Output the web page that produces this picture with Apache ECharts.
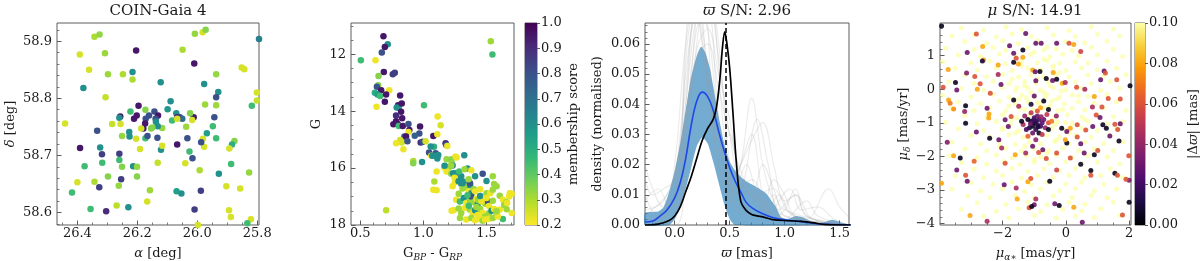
<!DOCTYPE html>
<html><head><meta charset="utf-8">
<script src="https://cdn.jsdelivr.net/npm/echarts@6/dist/echarts.min.js"></script>
<style>html,body{margin:0;padding:0;background:#fff}#c{width:1200px;height:261px}</style>
</head><body><div id="c"></div>
<script>
// ---------- Panel 1: sky positions [ra, dec, membership score] ----------
const skyPoints = [
[26.343,58.908,0.3],[26.326,58.912,0.33],[26.392,58.877,0.25],[26.308,58.879,0.32],[26.204,58.884,0.95],
[26.361,58.850,0.25],[26.298,58.842,0.32],[26.248,58.842,0.3],[26.216,58.846,0.6],[26.216,58.833,0.3],
[26.380,58.818,0.6],[26.306,58.802,0.27],[26.122,58.828,0.6],[26.049,58.885,0.3],[26.010,58.861,0.95],
[26.008,58.913,0.33],[25.982,58.916,0.25],[25.972,58.920,0.35],[25.852,58.854,0.25],[25.843,58.851,0.25],
[25.937,58.842,0.33],[25.977,58.825,0.6],[25.930,58.811,0.6],[25.937,58.802,0.8],[25.794,58.904,0.65],
[25.801,58.810,0.25],[25.801,58.796,0.27],[25.818,58.787,0.45],[25.974,58.789,0.32],[25.937,58.788,0.32],
[26.441,58.756,0.25],[26.089,58.795,0.6],[26.099,58.781,0.58],[26.070,58.774,0.6],[26.058,58.767,0.8],
[26.050,58.764,0.72],[26.067,58.767,0.92],[26.012,58.767,0.95],[26.024,58.774,0.35],[26.017,58.762,0.25],
[26.084,58.761,0.45],[26.067,58.764,0.25],[26.037,58.750,0.32],[25.943,58.767,0.8],[25.948,58.751,0.45],
[25.968,58.739,0.55],[25.981,58.729,0.25],[25.977,58.715,0.25],[25.987,58.723,0.8],[25.937,58.730,0.45],
[25.876,58.725,0.35],[25.884,58.719,0.5],[25.893,58.712,0.25],[26.033,58.730,0.8],[26.026,58.707,0.45],
[26.067,58.719,0.95],[26.016,58.695,0.8],[26.040,58.686,0.25],[26.121,58.710,0.6],[26.117,58.717,0.25],
[26.132,58.687,0.27],[26.133,58.731,0.8],[26.117,58.748,0.33],[26.196,58.787,0.95],[26.173,58.780,0.35],
[26.143,58.777,0.8],[26.131,58.770,0.95],[26.161,58.770,0.8],[26.223,58.777,0.45],[26.257,58.768,0.95],
[26.260,58.766,0.6],[26.202,58.770,0.95],[26.211,58.764,0.95],[26.172,58.764,0.8],[26.139,58.764,0.8],
[26.138,58.759,0.6],[26.132,58.751,0.6],[26.174,58.756,0.95],[26.180,58.747,0.95],[26.187,58.747,0.25],
[26.154,58.747,0.35],[26.150,58.749,0.35],[26.284,58.755,0.27],[26.256,58.755,0.25],[26.334,58.743,0.8],
[26.227,58.741,0.6],[26.226,58.733,0.6],[26.251,58.734,0.33],[26.204,58.729,0.25],[26.173,58.730,0.45],
[26.166,58.734,0.8],[26.191,58.711,0.25],[26.391,58.713,0.95],[26.324,58.714,0.6],[26.318,58.702,0.85],
[26.260,58.703,0.85],[26.260,58.692,0.45],[26.376,58.681,0.45],[26.317,58.687,0.45],[26.251,58.680,0.35],
[26.214,58.681,0.6],[26.201,58.680,0.33],[26.298,58.663,0.35],[26.254,58.658,0.85],[26.201,58.663,0.35],
[26.400,58.653,0.25],[26.343,58.654,0.3],[26.327,58.644,0.85],[26.262,58.647,0.33],[26.418,58.635,0.45],
[26.356,58.606,0.45],[26.304,58.602,0.9],[26.269,58.612,0.28],[26.230,58.609,0.6],[26.167,58.619,0.25],
[26.158,58.639,0.32],[26.069,58.637,0.55],[26.053,58.633,0.6],[26.009,58.605,0.85],[25.992,58.674,0.3],
[25.988,58.638,0.85],[25.928,58.668,0.6],[25.903,58.646,0.25],[25.894,58.604,0.25],[25.888,58.592,0.25],
[25.857,58.642,0.25],[25.827,58.670,0.33],[25.821,58.588,0.25],[25.833,58.581,0.45],[25.887,58.685,0.45],
[25.998,58.578,0.25]
];

// ---------- Panel 2: colour-magnitude [bp-rp, G, membership score] ----------
const cmdPoints = [
[0.684,11.37,0.95],[0.718,11.65,0.6],[0.695,11.74,0.95],[0.671,11.94,0.8],[0.505,12.21,0.45],[0.621,12.21,0.22],
[0.687,12.62,0.95],[0.645,12.76,0.35],[0.758,12.70,0.85],[0.774,12.65,0.85],[0.642,13.09,0.35],[0.632,13.14,0.8],
[0.666,13.26,0.95],[0.73,13.26,0.22],[0.616,13.35,0.5],[0.637,13.41,0.55],[0.658,13.47,0.45],[0.705,13.41,0.95],
[0.816,13.45,0.95],[0.695,13.67,0.95],[0.629,13.84,0.22],[0.800,13.79,0.95],[0.805,13.89,0.55],[0.789,13.87,0.6],
[0.829,13.73,0.95],[1.005,13.79,0.45],[0.824,14.02,0.95],[0.784,14.15,0.9],[0.832,14.25,0.95],[0.784,14.35,0.95],
[0.763,14.46,0.95],[0.797,14.45,0.95],[0.805,14.52,0.45],[0.837,14.52,0.95],[0.882,14.45,0.8],[0.974,14.54,0.95],
[1.113,14.19,0.22],[1.137,14.49,0.25],[0.889,14.66,0.95],[0.882,14.73,0.22],[0.968,14.78,0.8],[0.850,14.89,0.8],
[0.863,14.89,0.95],[0.932,14.86,0.75],[1.079,14.87,0.95],[1.111,14.81,0.22],[0.816,15.01,0.25],[0.829,15.10,0.25],
[0.784,15.13,0.22],[0.874,15.06,0.8],[0.979,15.10,0.9],[0.995,15.07,0.8],[1.018,15.06,0.25],[1.084,15.25,0.5],
[1.058,15.24,0.6],[1.176,15.13,0.9],[1.182,15.19,0.8],[0.842,15.34,0.22],[1.045,15.45,0.8],[1.097,15.48,0.8],
[1.089,15.57,0.6],[1.111,15.66,0.6],[1.063,15.57,0.22],[0.92,15.75,0.3],[0.92,15.83,0.35],[0.99,15.79,0.6],
[1.184,15.69,0.33],[1.224,15.69,0.35],[1.263,15.63,0.22],[1.324,15.55,0.6],[1.224,15.83,0.32],[1.174,15.94,0.6],
[1.105,16.12,0.22],[1.087,16.47,0.3],[1.105,16.78,0.22],[0.705,17.48,0.28],[1.534,11.54,0.32],[1.547,12.01,0.45],
[1.166,15.98,0.22],[1.20,15.98,0.32],[1.232,15.91,0.6],[1.35,16.01,0.6],[1.38,16.08,0.22],[1.47,16.2,0.8],
[1.41,16.29,0.6],[1.50,16.45,0.6],[1.55,16.29,0.32],[1.56,16.56,0.32],[1.58,16.64,0.32],[1.184,16.12,0.22],
[1.22,16.2,0.32],[1.26,16.18,0.6],[1.29,16.35,0.32],[1.30,16.29,0.6],[1.25,16.5,0.22],[1.32,16.48,0.6],
[1.30,16.55,0.6],[1.34,16.67,0.32],[1.37,16.6,0.6],[1.37,16.53,0.8],[1.31,16.72,0.32],[1.36,16.82,0.22],
[1.38,16.88,0.6],[1.40,16.74,0.32],[1.41,16.82,0.22],[1.45,16.74,0.22],[1.50,16.88,0.32],[1.53,16.88,0.22],
[1.55,16.76,0.32],[1.605,16.97,0.32],[1.63,17.11,0.22],[1.66,17.2,0.32],[1.68,17.0,0.22],[1.70,16.9,0.22],
[1.70,17.58,0.22],[1.66,17.45,0.32],[1.26,17.11,0.22],[1.29,17.17,0.45],[1.32,17.05,0.6],[1.34,17.23,0.22],
[1.37,17.12,0.32],[1.38,17.0,0.8],[1.40,17.2,0.32],[1.42,17.08,0.22],[1.43,17.27,0.6],[1.44,17.12,0.32],
[1.47,17.17,0.22],[1.49,17.25,0.32],[1.51,17.17,0.8],[1.52,17.33,0.22],[1.24,17.48,0.22],[1.28,17.42,0.32],
[1.30,17.58,0.32],[1.33,17.40,0.22],[1.37,17.46,0.32],[1.39,17.58,0.22],[1.41,17.48,0.6],[1.43,17.65,0.22],
[1.45,17.44,0.32],[1.47,17.58,0.22],[1.49,17.7,0.32],[1.52,17.58,0.32],[1.54,17.5,0.6],[1.56,17.44,0.22],
[1.58,17.6,0.32],[1.605,17.46,0.22],[1.29,17.75,0.32],[1.34,17.81,0.22],[1.38,17.75,0.32],[1.41,17.83,0.22],
[1.45,17.79,0.22],[1.47,17.85,0.32],[1.49,17.81,0.22],[1.52,17.78,0.22],[1.55,17.75,0.32],[1.63,17.79,0.45],
[1.59,17.7,0.22],[1.64,17.3,0.32],[1.235,16.18,0.6],[1.284,16.12,0.45],[1.247,16.34,0.22],[1.279,16.46,0.6],
[1.311,16.53,0.6],[1.358,16.39,0.32],[1.232,16.64,0.22],[1.079,16.76,0.22],[1.326,16.04,0.32],[1.168,15.92,0.6],
[1.221,15.91,0.32],[1.255,15.59,0.22],[1.118,15.54,0.6],[1.071,15.57,0.6],[1.19,15.22,0.22],[1.434,17.11,0.32],
[1.461,17.17,0.22],[1.684,16.88,0.22],[1.663,17.23,0.22],[1.224,17.50,0.22],[1.579,17.52,0.32],[1.28,16.9,0.32],
[1.35,16.95,0.45],[1.45,16.98,0.6],[1.42,17.37,0.32],[1.36,17.32,0.45],[1.5,17.05,0.22],[1.55,17.15,0.32]
];

// ---------- Panel 3: parallax densities [parallax, density] ----------
const kdeMedian = [[-0.27,0.001],[-0.2,0.0013],[-0.14,0.0028],[-0.07,0.005],[0.0,0.009],[0.05,0.014],[0.1,0.022],
[0.15,0.033],[0.2,0.041],[0.25,0.044],[0.3,0.0425],[0.35,0.038],[0.4,0.031],[0.45,0.0245],[0.5,0.019],[0.55,0.0145],
[0.6,0.011],[0.65,0.0075],[0.71,0.0055],[0.8,0.0037],[0.89,0.0025],[1.0,0.0017],[1.13,0.0012],[1.25,0.0006],[1.4,0.0002],[1.6,0]];
const kdeUpper = [[-0.27,0.004],[-0.15,0.0045],[-0.1,0.006],[-0.05,0.011],[0.0,0.018],[0.05,0.027],[0.1,0.038],
[0.15,0.049],[0.2,0.056],[0.24,0.059],[0.28,0.057],[0.32,0.052],[0.35,0.046],[0.41,0.034],[0.45,0.027],[0.5,0.021],
[0.55,0.018],[0.6,0.016],[0.65,0.0145],[0.7,0.0135],[0.77,0.012],[0.83,0.0105],[0.88,0.008],[0.92,0.006],[0.97,0.0025],
[1.03,0.002],[1.1,0.003],[1.17,0.0025],[1.25,0.001],[1.35,0.0008],[1.43,0.0017],[1.5,0.001],[1.6,0]];
const kdeLower = [[-0.27,0],[-0.05,0],[0.0,0.002],[0.05,0.006],[0.1,0.012],[0.15,0.019],[0.2,0.026],[0.25,0.029],
[0.3,0.027],[0.35,0.021],[0.4,0.014],[0.45,0.007],[0.5,0.002],[0.55,0],[1.6,0]];
const kdeCluster = [[-0.27,0],[-0.15,0.0003],[-0.05,0.0015],[0.0,0.003],[0.05,0.006],[0.1,0.011],[0.15,0.016],
[0.2,0.022],[0.25,0.028],[0.3,0.032],[0.35,0.035],[0.38,0.039],[0.41,0.048],[0.435,0.059],[0.455,0.064],[0.475,0.06],
[0.5,0.052],[0.53,0.037],[0.56,0.021],[0.6,0.008],[0.65,0.0048],[0.7,0.0035],[0.75,0.003],[0.8,0.0027],[0.89,0.0018],
[1.04,0.0014],[1.15,0.0012],[1.25,0.0008],[1.37,0.0001],[1.6,0]];
const clusterParallax = 0.455;
const kdeSamples = [
[[-0.27,0.008],[-0.15,0.012],[-0.05,0.005],[0.05,0.03],[0.15,0.07],[0.25,0.075],[0.35,0.04],[0.45,0.02],[0.55,0.01],[0.7,0.015],[0.85,0.005],[1.0,0.002],[1.2,0],[1.6,0]],
[[-0.27,0],[-0.1,0.002],[0.0,0.02],[0.1,0.06],[0.2,0.08],[0.3,0.05],[0.4,0.025],[0.5,0.03],[0.6,0.012],[0.75,0.035],[0.85,0.02],[0.95,0.005],[1.1,0.01],[1.25,0.002],[1.6,0]],
[[-0.27,0.015],[-0.2,0.01],[-0.1,0.012],[0.0,0.015],[0.1,0.045],[0.2,0.07],[0.3,0.065],[0.4,0.03],[0.5,0.01],[0.6,0.02],[0.7,0.03],[0.8,0.01],[0.9,0.002],[1.0,0.005],[1.1,0.012],[1.2,0.003],[1.6,0]],
[[-0.27,0.002],[0.0,0.005],[0.1,0.04],[0.2,0.075],[0.3,0.05],[0.4,0.02],[0.5,0.01],[0.6,0.02],[0.7,0.042],[0.8,0.02],[0.9,0.008],[1.0,0.003],[1.6,0]],
[[-0.27,0],[0.0,0.002],[0.1,0.03],[0.2,0.065],[0.3,0.07],[0.4,0.035],[0.5,0.015],[0.6,0.02],[0.7,0.028],[0.8,0.034],[0.9,0.02],[1.0,0.006],[1.15,0.002],[1.6,0]],
[[-0.27,0],[0.0,0.01],[0.1,0.05],[0.2,0.07],[0.3,0.045],[0.4,0.02],[0.5,0.008],[0.6,0.004],[0.8,0.003],[0.95,0.01],[1.05,0.004],[1.2,0.002],[1.4,0.012],[1.5,0.006],[1.6,0.002]],
[[-0.27,0],[0.0,0.0],[0.1,0.02],[0.2,0.06],[0.3,0.08],[0.4,0.06],[0.5,0.02],[0.6,0.005],[0.9,0.012],[1.0,0.008],[1.1,0.01],[1.2,0.003],[1.6,0]],
[[-0.27,0.01],[-0.15,0.003],[0.0,0.008],[0.1,0.035],[0.2,0.055],[0.3,0.06],[0.4,0.045],[0.5,0.03],[0.6,0.018],[0.7,0.01],[0.8,0.006],[0.9,0.01],[1.0,0.003],[1.3,0.001],[1.6,0]],
[[-0.27,0.003],[0.0,0.015],[0.1,0.06],[0.15,0.08],[0.25,0.06],[0.35,0.035],[0.45,0.025],[0.55,0.012],[0.65,0.02],[0.75,0.01],[0.85,0.004],[1.05,0.012],[1.15,0.005],[1.3,0.006],[1.45,0.002],[1.6,0]],
[[-0.27,0.005],[-0.1,0.008],[0.05,0.025],[0.15,0.05],[0.25,0.08],[0.35,0.07],[0.45,0.03],[0.55,0.008],[0.7,0.012],[0.8,0.005],[0.9,0.015],[1.0,0.01],[1.1,0.003],[1.6,0]],
[[-0.27,0.02],[-0.2,0.012],[-0.1,0.006],[0.0,0.01],[0.1,0.04],[0.2,0.07],[0.3,0.08],[0.4,0.055],[0.5,0.03],[0.6,0.012],[0.7,0.01],[0.8,0.02],[0.9,0.012],[1.0,0.005],[1.6,0]],
[[-0.27,0],[0.0,0.003],[0.1,0.028],[0.2,0.058],[0.3,0.065],[0.4,0.05],[0.5,0.035],[0.6,0.015],[0.7,0.01],[0.85,0.007],[1.0,0.002],[1.2,0.008],[1.3,0.003],[1.6,0]]
];

// ---------- Panel 4: proper motions [pmra, pmdec, |dparallax|] ----------
const pmColoured = [
[-3.93,1.88,0.005],[-2.83,1.64,0.06],[-3.12,1.09,0.03],[-2.63,1.27,0.08],[-2.60,0.87,0.08],[-2.64,0.84,0.01],
[-3.72,0.59,0.08],[-3.14,0.48,0.035],[-2.88,0.38,0.06],[-3.49,0.20,0.005],[-3.88,0.06,0.06],[-3.45,-0.02,0.03],
[-3.71,-0.32,0.08],[-3.66,-0.42,0.07],[-3.17,-0.49,0.005],[-3.20,-0.66,0.04],[-3.55,-0.59,0.075],[-3.17,-1.01,0.005],
[-3.75,-1.58,0.035],[-3.34,-2.05,0.005],[-3.55,-1.98,0.08],[-2.90,-2.14,0.065],[-3.45,-2.40,0.03],[-3.17,-2.56,0.06],
[-3.12,-2.74,0.03],[-3.93,-2.8,0.08],[-3.03,-3.76,0.08],[-2.49,-3.93,0.045],[-2.41,-1.46,0.005],[-2.83,-1.27,0.03],
[-2.49,-0.57,0.03],[-2.39,-0.12,0.06],[-2.71,0.16,0.06],[-2.8,0.0,0.08],[-2.14,0.44,0.045],[-2.05,0.14,0.03],
[-2.14,0.72,0.08],[-1.78,1.29,0.03],[-1.65,1.07,0.03],[-1.36,1.17,0.005],[-1.27,1.66,0.03],[-1.65,0.80,0.005],
[-1.57,0.92,0.06],[-1.5,0.75,0.08],[-1.36,0.95,0.08],[-0.95,1.37,0.03],[-0.78,1.37,0.03],[-0.29,1.37,0.03],
[0.10,1.37,0.06],[0.25,1.33,0.08],[0.47,1.12,0.055],[-1.05,0.57,0.08],[-0.97,0.52,0.03],[-0.82,0.53,0.005],
[-0.62,0.32,0.005],[-0.95,0.25,0.03],[-0.40,0.50,0.08],[-0.42,0.26,0.03],[-0.29,0.30,0.005],[-0.11,0.18,0.08],
[-0.02,0.20,0.045],[0.34,0.06,0.06],[0.60,0.0,0.045],[1.21,0.54,0.03],[1.25,0.48,0.06],[1.10,0.28,0.03],
[1.61,0.28,0.06],[2.03,0.1,0.005],[1.34,-0.28,0.06],[1.72,-0.29,0.06],[0.90,-0.22,0.08],[0.84,-0.53,0.045],
[1.14,-0.53,0.06],[0.96,-0.77,0.06],[1.08,-0.84,0.03],[1.17,-1.06,0.005],[1.28,-1.16,0.005],[1.55,-1.04,0.06],
[1.72,-1.03,0.03],[1.64,-1.2,0.06],[1.39,-1.39,0.03],[1.68,-1.54,0.005],[0.85,-1.11,0.03],[0.63,-1.21,0.06],
[0.36,-1.06,0.06],[0.14,-1.16,0.08],[-0.13,-1.16,0.005],[0.03,-1.26,0.03],[0.36,-1.42,0.06],[0.47,-1.62,0.03],
[0.03,-1.60,0.005],[-0.02,-1.50,0.08],[0.58,-1.90,0.03],[0.90,-1.95,0.005],[1.01,-1.82,0.06],[1.99,-1.98,0.06],
[2.0,-2.71,0.035],[1.9,-2.68,0.06],[1.55,-2.50,0.005],[1.63,-2.56,0.06],[0.79,-2.42,0.005],[0.79,-2.56,0.06],
[0.47,-2.23,0.005],[0.14,-2.05,0.06],[-0.29,-1.90,0.06],[-0.29,-2.40,0.055],[-0.51,-2.74,0.005],[-0.73,-1.80,0.03],
[-0.62,-2.06,0.06],[-0.86,-1.88,0.06],[-1.05,-1.70,0.03],[-1.27,-1.90,0.045],[-1.60,-1.95,0.08],[-1.92,-2.20,0.06],
[-1.95,-2.84,0.03],[-1.57,-2.94,0.045],[-1.54,-3.27,0.08],[-1.11,-2.66,0.06],[-1.2,-2.75,0.08],[-0.95,-3.27,0.045],
[-1.00,-3.44,0.03],[-1.16,-3.53,0.06],[-0.35,-3.41,0.03],[-0.21,-3.46,0.005],[-1.08,-3.49,0.005],[0.52,-3.96,0.03],
[0.25,-3.51,0.08],[1.79,-3.74,0.06],[2.0,-3.36,0.005],[-2.43,-0.74,0.08],[-2.44,-0.86,0.08],[-1.92,-0.91,0.03],
[-1.82,-1.11,0.03],[-1.73,-0.81,0.06],[-2.12,-1.50,0.03],[-2.03,-1.75,0.045],[-1.65,-0.32,0.005],[-1.49,-0.51,0.045],
[-1.0,-1.0,0.005],[-0.95,-0.95,0.01],[-0.9,-1.05,0.015],[-1.05,-1.1,0.005],[-0.85,-0.9,0.02],[-1.1,-0.95,0.01],
[-0.8,-1.1,0.02],[-0.95,-1.2,0.015],[-1.15,-1.15,0.01],[-0.75,-1.0,0.025],[-1.0,-0.85,0.02],[-0.9,-0.8,0.03],
[-1.2,-0.9,0.005],[-0.7,-0.9,0.03],[-0.65,-1.15,0.04],[-1.25,-1.2,0.02],[-0.85,-1.3,0.005],[-1.05,-1.3,0.03],
[-0.6,-0.75,0.05],[-1.3,-0.8,0.04],[-0.55,-1.0,0.06],[-1.35,-1.05,0.045],[-0.9,-0.65,0.06],[-1.1,-0.7,0.05],
[-0.75,-1.35,0.05],[-1.4,-0.95,0.005],[-0.45,-0.95,0.07],[-0.8,-0.55,0.08],[-1.2,-1.4,0.065],[-0.95,-1.5,0.04],
[-1.1,-0.45,0.01],[-0.7,-0.35,0.005],[-1.0,-0.2,0.03],[-0.55,-0.6,0.005],[-0.55,-1.2,0.005],[-0.3,-0.8,0.04],
[-1.02,-0.92,0.02],[-0.88,-1.12,0.01],[-1.12,-1.03,0.03],[-0.78,-0.82,0.04]
];
const pmField = [
[-3.3,1.82],[-2.6,1.76],[-1.9,1.85],[-1.4,1.78],[-0.6,1.83],[0.1,1.75],[0.8,1.86],[1.5,1.79],
[-3.6,1.58],[-2.9,1.62],[-2.2,1.55],[-1.7,1.64],[-1.1,1.57],[-0.4,1.61],[0.3,1.56],[1.0,1.63],[1.7,1.58],
[-3.2,1.42],[-2.5,1.37],[-2.0,1.44],[-1.5,1.36],[-0.9,1.45],[-0.6,1.25],[0.0,1.41],[0.6,1.38],[1.3,1.43],
[-3.8,1.22],[-2.9,1.18],[-2.3,1.24],[-1.9,1.15],[-1.2,1.23],[-0.7,1.17],[-0.3,1.2],[0.2,1.16],[0.8,1.24],[1.5,1.19],
[-3.4,1.02],[-2.7,0.97],[-2.1,1.05],[-1.6,0.98],[-1.1,1.03],[-0.5,0.96],[-0.1,1.04],[0.4,0.99],[1.0,1.02],[1.8,0.97],
[-3.9,0.82],[-3.0,0.78],[-2.4,0.84],[-1.9,0.76],[-1.4,0.83],[-0.9,0.79],[-0.6,0.85],[-0.2,0.77],[0.3,0.82],[0.7,0.78],[1.3,0.84],
[-3.5,0.62],[-2.8,0.57],[-2.2,0.64],[-1.7,0.56],[-1.2,0.63],[-0.8,0.58],[-0.4,0.65],[0.0,0.56],[0.5,0.63],[1.0,0.58],[1.6,0.62],
[-3.2,0.42],[-2.5,0.37],[-2.0,0.44],[-1.5,0.36],[-1.1,0.43],[-0.7,0.38],[-0.3,0.44],[0.1,0.36],[0.7,0.42],[1.2,0.38],[1.9,0.43],
[-3.7,0.22],[-2.9,0.17],[-2.3,0.24],[-1.8,0.16],[-1.3,0.23],[-0.95,0.18],[-0.55,0.24],[-0.15,0.16],[0.3,0.22],[0.8,0.17],[1.4,0.23],
[-3.3,0.02],[-2.6,-0.03],[-2.0,0.04],[-1.6,-0.04],[-1.2,0.03],[-0.8,-0.02],[-0.4,0.04],[0.0,-0.03],[0.5,0.02],[1.1,-0.03],[1.7,0.03],
[-3.9,-0.18],[-3.0,-0.23],[-2.3,-0.16],[-1.8,-0.24],[-1.4,-0.17],[-1.0,-0.22],[-0.6,-0.16],[-0.2,-0.23],[0.2,-0.17],[0.7,-0.22],[1.3,-0.16],
[-3.4,-0.38],[-2.7,-0.43],[-2.1,-0.36],[-1.6,-0.44],[-1.2,-0.37],[-0.85,-0.42],[-0.45,-0.36],[-0.05,-0.43],[0.4,-0.37],[0.9,-0.42],[1.6,-0.38],
[-3.6,-0.58],[-2.9,-0.63],[-2.4,-0.56],[-1.9,-0.64],[-1.45,-0.57],[-1.05,-0.62],[-0.65,-0.56],[-0.25,-0.63],[0.2,-0.57],[0.6,-0.62],[1.2,-0.56],[1.9,-0.63],
[-3.2,-0.78],[-2.5,-0.83],[-2.0,-0.76],[-1.55,-0.84],[-1.15,-0.77],[-0.35,-0.82],[0.05,-0.76],[0.5,-0.83],[1.0,-0.77],[1.5,-0.82],
[-3.8,-0.98],[-2.8,-1.03],[-2.2,-0.96],[-1.75,-1.04],[-0.25,-0.97],[0.2,-1.02],[0.7,-0.96],[1.3,-1.03],[1.8,-0.97],
[-3.4,-1.18],[-2.6,-1.23],[-2.0,-1.16],[-1.5,-1.24],[-0.45,-1.17],[0.0,-1.22],[0.5,-1.16],[1.0,-1.23],[1.6,-1.17],
[-3.0,-1.38],[-2.4,-1.43],[-1.8,-1.36],[-1.35,-1.44],[-0.6,-1.37],[-0.2,-1.42],[0.3,-1.36],[0.8,-1.43],[1.4,-1.37],
[-3.6,-1.58],[-2.7,-1.63],[-2.1,-1.56],[-1.6,-1.64],[-1.15,-1.57],[-0.8,-1.62],[-0.35,-1.56],[0.1,-1.63],[0.6,-1.57],[1.2,-1.62],[1.8,-1.56],
[-3.2,-1.78],[-2.5,-1.83],[-1.9,-1.76],[-1.4,-1.84],[-1.0,-1.77],[-0.55,-1.82],[-0.1,-1.76],[0.4,-1.83],[0.9,-1.77],[1.5,-1.82],
[-3.7,-1.98],[-2.8,-2.03],[-2.2,-1.96],[-1.7,-2.04],[-1.25,-1.97],[-0.8,-2.02],[-0.3,-1.96],[0.2,-2.03],[0.7,-1.97],[1.3,-2.02],
[-3.3,-2.18],[-2.5,-2.23],[-1.95,-2.16],[-1.45,-2.24],[-1.0,-2.17],[-0.5,-2.22],[0.0,-2.16],[0.5,-2.23],[1.0,-2.17],[1.7,-2.22],
[-2.9,-2.38],[-2.2,-2.43],[-1.7,-2.36],[-1.2,-2.44],[-0.7,-2.37],[-0.2,-2.42],[0.3,-2.36],[0.8,-2.43],[1.4,-2.37],
[-3.5,-2.58],[-2.6,-2.63],[-2.0,-2.56],[-1.4,-2.64],[-0.9,-2.57],[-0.4,-2.62],[0.1,-2.56],[0.6,-2.63],[1.1,-2.57],[1.8,-2.62],
[-3.0,-2.78],[-2.3,-2.83],[-1.7,-2.76],[-1.1,-2.84],[-0.6,-2.77],[0.0,-2.82],[0.5,-2.76],[1.2,-2.83],
[-3.6,-2.98],[-2.7,-3.03],[-2.0,-2.96],[-1.3,-3.04],[-0.8,-2.97],[-0.2,-3.02],[0.3,-2.96],[0.9,-3.03],[1.6,-2.97],
[-3.1,-3.18],[-2.4,-3.23],[-1.6,-3.16],[-1.0,-3.24],[-0.4,-3.17],[0.2,-3.22],[0.8,-3.16],[1.3,-3.23],
[-2.8,-3.38],[-1.9,-3.43],[-1.2,-3.36],[-0.6,-3.44],[0.1,-3.37],[0.6,-3.42],[1.5,-3.36],
[-3.3,-3.58],[-2.2,-3.63],[-1.5,-3.56],[-0.8,-3.64],[-0.1,-3.57],[0.5,-3.62],[1.1,-3.56],
[-2.6,-3.78],[-1.8,-3.83],[-1.0,-3.76],[-0.3,-3.84],[0.3,-3.77],[0.9,-3.82],[1.7,-3.76],
[-1.3,0.1],[-0.9,0.3],[-0.5,0.1],[-1.1,-0.1],[-0.7,-0.1],[-0.3,-0.3],[-1.5,-0.3],[-0.9,-0.4],[-0.5,-0.5],
[-1.3,-0.6],[-0.1,-0.6],[-1.7,-0.9],[0.0,-1.0],[-1.6,-1.3],[-0.3,-1.5],[-1.3,-1.7],[-0.6,-1.9],[-1.0,-2.1],
[0.1,-1.3],[-2.0,-1.2],[-1.8,-0.5],[-0.2,0.5],[-1.4,0.7],[-0.7,0.9],[-1.0,1.1],[-0.4,0.7],[-1.7,0.3],
[0.4,-0.2],[0.6,-0.9],[-2.1,-1.7],[-1.25,-0.25],[-0.65,-0.25],[-0.15,-0.05],[-1.55,0.05],[-0.35,-1.05]
];

// ---------- tick labels ----------
const skyRaTicks = [26.4, 26.2, 26.0, 25.8];
const skyDecTicks = [58.6, 58.7, 58.8, 58.9];
const cmdColTicks = [0.5, 1.0, 1.5];
const cmdMagTicks = [12, 14, 16, 18];
const scoreTicks = [0.2, 0.3, 0.4, 0.5, 0.6, 0.7, 0.8, 0.9, 1.0];
const plxTicks = [0.0, 0.5, 1.0, 1.5];
const densTicks = [0.00, 0.01, 0.02, 0.03, 0.04, 0.05, 0.06];
const pmraTicks = [-2, 0, 2];
const pmdecTicks = [-4, -3, -2, -1, 0, 1];
const dplxTicks = [0.00, 0.02, 0.04, 0.06, 0.08, 0.10];

// ---------- styling ----------
const FONT = 'DejaVu Serif';
const TXT = '#1a1a1a';
const SPINE = '#5c5c5c';
const VIRIDIS_R = ['#fde725','#b5de2b','#6ece58','#35b779','#1f9e89','#26828e','#31688e','#3e4989','#482878','#440154'];
const INFERNO = ['#000004','#1b0c41','#4a0c6b','#781c6d','#a52c60','#cf4446','#ed6925','#fb9b06','#f7d13d','#fcffa4'];

function minorTicks(min, max, step, majors) {
  const out = [];
  for (let k = Math.ceil(min / step - 1e-9); k <= Math.floor(max / step + 1e-9); k++) {
    const v = +(k * step).toFixed(6);
    if (!majors.some(m => Math.abs(m - v) < step * 1e-3)) out.push(v);
  }
  return out;
}
const minus = v => (v < 0 ? '\u2212' : '') + Math.abs(v);
const nameStyle = () => ({
  fontFamily: FONT, fontSize: 13, color: TXT, lineHeight: 17,
  rich: {
    i: {fontFamily: FONT, fontSize: 13, fontStyle: 'italic', color: TXT},
    s: {fontFamily: FONT, fontSize: 9, fontStyle: 'italic', color: TXT, verticalAlign: 'bottom', lineHeight: 17}
  }
});

const xAxis = [], yAxis = [];
function addAxes(list, gi, o) {
  const base = {type: 'value', gridIndex: gi, min: o.min, max: o.max, inverse: !!o.inverse,
    position: o.position, axisLine: {show: false, onZero: false}, splitLine: {show: false}};
  const major = Object.assign({}, base, {
    axisTick: {show: true, inside: o.outside ? false : true, length: o.tickLen || 4.5,
      lineStyle: {color: SPINE, width: 1}, customValues: o.major},
    axisLabel: {show: true, customValues: o.major, formatter: o.fmt, margin: o.margin || 5,
      fontFamily: FONT, fontSize: 13, color: TXT},
    name: o.name || '', nameLocation: 'middle', nameGap: o.gap || 20, nameRotate: o.nameRotate,
    nameTextStyle: nameStyle()
  });
  const idx = list.length;
  list.push(major);
  if (o.minorStep) {
    list.push(Object.assign({}, base, {
      axisTick: {show: true, inside: true, length: 2.5, lineStyle: {color: SPINE, width: 0.8},
        customValues: minorTicks(o.min, o.max, o.minorStep, o.major)},
      axisLabel: {show: false}
    }));
  }
  return idx;
}
function addHidden(list, gi) {
  const idx = list.length;
  list.push({type: 'value', gridIndex: gi, min: 0, max: 1, show: false});
  return idx;
}

const gridBase = {show: true, borderColor: SPINE, borderWidth: 1, backgroundColor: 'transparent',
  containLabel: false, outerBoundsMode: 'none'};
const grid = [
  Object.assign({left: 57, top: 23, width: 202, height: 202}, gridBase),
  Object.assign({left: 351, top: 23, width: 163, height: 202}, gridBase),
  Object.assign({left: 525, top: 23, width: 12, height: 202}, gridBase),
  Object.assign({left: 645, top: 23, width: 204, height: 202}, gridBase),
  Object.assign({left: 940, top: 23, width: 191, height: 202}, gridBase),
  Object.assign({left: 1135, top: 23, width: 10, height: 202}, gridBase)
];

const XM = 2, XG = 15;
// panel 1
const x0 = addAxes(xAxis, 0, {min: 25.794, max: 26.468, inverse: true, position: 'bottom', major: skyRaTicks,
  minorStep: 0.05, fmt: v => v.toFixed(1), margin: XM, name: '{i|α} [deg]', gap: XG});
const y0 = addAxes(yAxis, 0, {min: 58.578, max: 58.932, position: 'left', major: skyDecTicks,
  minorStep: 0.02, fmt: v => v.toFixed(1), name: '{i|δ} [deg]', gap: 38});
// panel 2
const x1 = addAxes(xAxis, 1, {min: 0.427, max: 1.718, position: 'bottom', major: cmdColTicks,
  minorStep: 0.1, fmt: v => v.toFixed(1), margin: XM, name: 'G{s|BP} - G{s|RP}', gap: XG});
const y1 = addAxes(yAxis, 1, {min: 10.9, max: 18, inverse: true, position: 'left', major: cmdMagTicks,
  minorStep: 0.5, fmt: v => String(v), name: 'G', gap: 20});
// colour bar 1
const x2 = addHidden(xAxis, 2);
const y2 = addAxes(yAxis, 2, {min: 0.2, max: 1.0, position: 'right', major: scoreTicks, outside: true, tickLen: 3,
  fmt: v => v.toFixed(1), margin: 4, name: 'membership score', gap: 26, nameRotate: 90});
// panel 3
const x3 = addAxes(xAxis, 3, {min: -0.27, max: 1.585, position: 'bottom', major: plxTicks,
  minorStep: 0.1, fmt: v => v.toFixed(1), margin: XM, name: '{i|ϖ} [mas]', gap: XG});
const y3 = addAxes(yAxis, 3, {min: 0, max: 0.0669, position: 'left', major: densTicks,
  minorStep: 0.002, fmt: v => v.toFixed(2), name: 'density (normalised)', gap: 39});
// panel 4
const x4 = addAxes(xAxis, 4, {min: -3.98, max: 2.06, position: 'bottom', major: pmraTicks,
  minorStep: 0.5, fmt: minus, margin: XM, name: '{i|μ}{s|α∗} [mas/yr]', gap: XG});
const y4 = addAxes(yAxis, 4, {min: -4.04, max: 1.97, position: 'left', major: pmdecTicks,
  minorStep: 0.2, fmt: minus, name: '{i|μ}{s|δ} [mas/yr]', gap: 28});
// colour bar 2
const x5 = addHidden(xAxis, 5);
const y5 = addAxes(yAxis, 5, {min: 0, max: 0.1, position: 'right', major: dplxTicks, outside: true, tickLen: 3,
  fmt: v => v.toFixed(2), margin: 4, name: '|Δ{i|ϖ}| [mas]', gap: 40, nameRotate: 90});

function colourBar(xi, yi, lo, hi, colsLowToHigh) {
  const n = colsLowToHigh.length - 1;
  const stops = colsLowToHigh.map((c, k) => ({offset: 1 - k / n, color: c})).reverse();
  return {
    type: 'custom', xAxisIndex: xi, yAxisIndex: yi, silent: true, data: [[0, lo, hi]],
    renderItem: (p, api) => {
      const a = api.coord([0, api.value(2)]);
      const b = api.coord([1, api.value(1)]);
      return {type: 'rect', shape: {x: a[0], y: a[1], width: b[0] - a[0], height: b[1] - a[1]},
        style: {fill: new echarts.graphic.LinearGradient(0, 0, 0, 1, stops)}};
    }
  };
}

const series = [];
series.push({type: 'scatter', xAxisIndex: x0, yAxisIndex: y0, data: skyPoints, symbolSize: 6.5,
  itemStyle: {opacity: 1}, silent: true});
series.push({type: 'scatter', xAxisIndex: x1, yAxisIndex: y1, data: cmdPoints, symbolSize: 6.5,
  itemStyle: {opacity: 1}, silent: true});
series.push(colourBar(x2, y2, 0.2, 1.0, VIRIDIS_R));
kdeSamples.forEach(s => series.push({type: 'line', xAxisIndex: x3, yAxisIndex: y3, data: s, smooth: 0.4,
  showSymbol: false, silent: true, lineStyle: {color: 'rgba(160,160,160,0.2)', width: 1.2}}));
series.push({type: 'custom', xAxisIndex: x3, yAxisIndex: y3, silent: true, data: [[0]],
  renderItem: (p, api) => {
    const pts = kdeUpper.map(d => api.coord(d)).concat(kdeLower.slice().reverse().map(d => api.coord(d)));
    return {type: 'polygon', shape: {points: pts, smooth: 0.2},
      style: {fill: 'rgba(31,119,180,0.62)', stroke: 'none'}};
  }});
series.push({type: 'line', xAxisIndex: x3, yAxisIndex: y3, data: kdeMedian, smooth: 0.4, showSymbol: false,
  silent: true, lineStyle: {color: '#1f47e6', width: 1.6}});
series.push({type: 'line', xAxisIndex: x3, yAxisIndex: y3, data: kdeCluster, smooth: 0.35, showSymbol: false,
  silent: true, lineStyle: {color: '#000', width: 1.7},
  markLine: {silent: true, symbol: 'none', label: {show: false},
    lineStyle: {color: '#000', type: [5, 3], width: 1.5}, data: [{xAxis: clusterParallax}]}});
series.push({type: 'scatter', xAxisIndex: x4, yAxisIndex: y4, data: pmField, symbolSize: 5,
  itemStyle: {color: '#fcffa4', opacity: 0.7}, silent: true});
const pmIdx = series.length;
series.push({type: 'scatter', xAxisIndex: x4, yAxisIndex: y4, data: pmColoured, symbolSize: 5,
  itemStyle: {opacity: 0.9}, silent: true});
series.push(colourBar(x5, y5, 0, 0.1, INFERNO));

const titleFont = {fontFamily: FONT, fontSize: 15, fill: TXT, align: 'center', verticalAlign: 'middle',
  rich: {i: {fontFamily: FONT, fontSize: 15, fontStyle: 'italic', fill: TXT}}};
const option = {
  animation: false,
  backgroundColor: '#fff',
  grid, xAxis, yAxis, series,
  visualMap: [
    {type: 'continuous', show: false, seriesIndex: [0, 1], dimension: 2, min: 0.2, max: 1.0, inRange: {color: VIRIDIS_R}},
    {type: 'continuous', show: false, seriesIndex: [pmIdx], dimension: 2, min: 0, max: 0.1, inRange: {color: INFERNO}}
  ],
  graphic: [
    {type: 'text', x: 158, y: 11, style: Object.assign({text: 'COIN-Gaia 4'}, titleFont)},
    {type: 'text', x: 747, y: 11, style: Object.assign({text: '{i|ϖ} S/N: 2.96'}, titleFont)},
    {type: 'text', x: 1035, y: 11, style: Object.assign({text: '{i|μ} S/N: 14.91'}, titleFont)}
  ]
};
const chart = echarts.init(document.getElementById('c'));
chart.setOption(option);
</script></body></html>
